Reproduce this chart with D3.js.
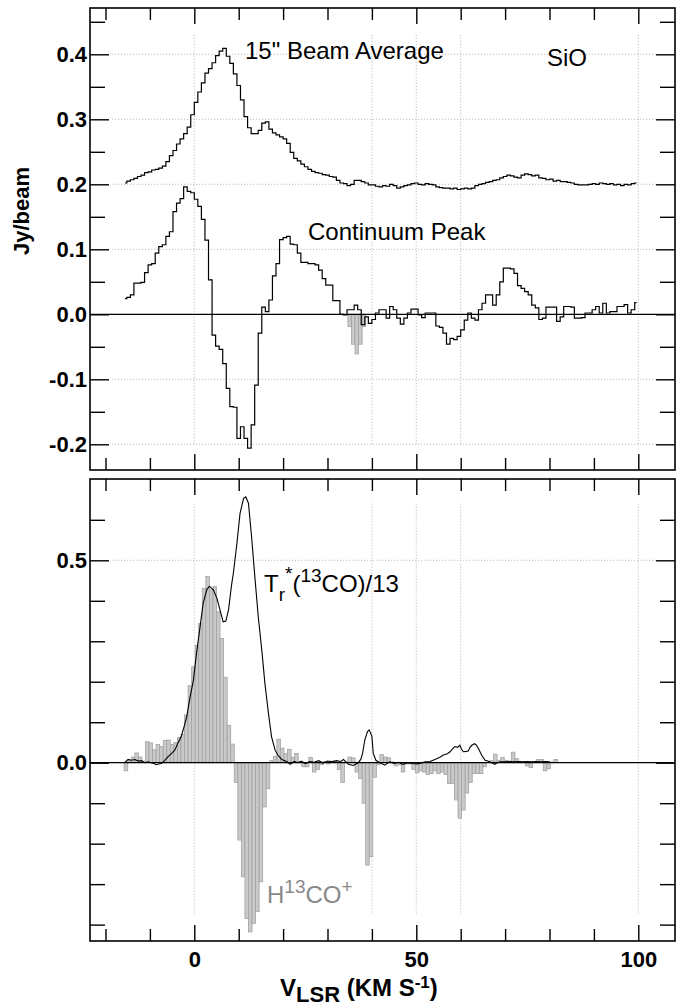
<!DOCTYPE html>
<html><head><meta charset="utf-8">
<script src="https://cdn.jsdelivr.net/npm/d3@7"></script>
<style>
body{margin:0;background:#fff;}
svg text{font-family:"Liberation Sans",Arial,Helvetica,sans-serif;}
</style></head><body>
<svg id="chart" width="679" height="1008"></svg>
<script>
// ---------------- DATA ----------------
// SiO spectra (Jy/beam), channels of 0.8 km/s starting at -15.6 km/s
const sioStart = -15.6;
const sioChannel = 0.8;
const sioBeamAverage = [
0.202,0.205,0.207,0.209,0.212,0.214,0.218,0.219,0.222,0.223,
0.225,0.228,0.235,0.244,0.252,0.262,0.270,0.278,0.288,0.307,
0.326,0.342,0.356,0.371,0.378,0.387,0.398,0.405,0.409,0.397,
0.386,0.370,0.352,0.330,0.304,0.287,0.278,0.278,0.283,0.294,
0.296,0.285,0.279,0.276,0.273,0.270,0.263,0.249,0.240,0.236,
0.231,0.227,0.223,0.220,0.218,0.217,0.215,0.214,0.212,0.211,
0.206,0.202,0.201,0.198,0.200,0.206,0.206,0.204,0.202,0.199,
0.199,0.197,0.196,0.198,0.197,0.200,0.198,0.194,0.196,0.198,
0.199,0.201,0.202,0.200,0.199,0.201,0.200,0.199,0.196,0.195,
0.194,0.194,0.193,0.194,0.192,0.193,0.194,0.193,0.194,0.198,
0.200,0.201,0.203,0.204,0.206,0.207,0.210,0.212,0.214,0.213,
0.211,0.210,0.214,0.216,0.215,0.213,0.214,0.210,0.209,0.207,
0.208,0.205,0.206,0.204,0.204,0.203,0.202,0.200,0.199,0.199,
0.199,0.200,0.201,0.200,0.202,0.201,0.200,0.201,0.199,0.200,
0.198,0.200,0.199,0.201,0.202];
const sioContinuumPeak = [
0.024,0.026,0.030,0.048,0.048,0.049,0.064,0.076,0.078,0.094,
0.104,0.107,0.120,0.127,0.158,0.171,0.178,0.196,0.189,0.187,
0.177,0.166,0.146,0.114,0.053,-0.032,-0.049,-0.054,-0.076,-0.114,
-0.142,-0.143,-0.191,-0.173,-0.191,-0.206,-0.170,-0.109,-0.029,0.011,
0.004,0.022,0.059,0.078,0.115,0.118,0.120,0.108,0.107,0.094,
0.080,0.080,0.078,0.078,0.076,0.068,0.055,0.045,0.045,0.021,
0.021,0.000,-0.001,0.007,0.007,0.014,0.007,-0.016,-0.004,-0.014,
-0.008,0.002,0.007,0.007,-0.006,0.012,0.007,-0.006,-0.015,-0.006,
0.002,0.008,0.008,-0.001,-0.005,0.002,0.002,0.002,-0.018,-0.020,
-0.029,-0.046,-0.037,-0.039,-0.034,-0.024,-0.009,0.002,-0.006,-0.009,
0.007,0.017,0.030,0.030,0.014,0.030,0.050,0.071,0.071,0.070,
0.063,0.044,0.040,0.035,0.030,0.014,0.010,-0.008,-0.006,0.011,
0.011,0.011,-0.011,-0.004,0.012,0.012,0.011,-0.006,-0.006,-0.005,
0.002,0.002,0.007,0.012,0.002,0.017,0.002,0.004,0.004,0.012,
0.012,0.015,0.002,0.007,0.018];
// grey absorption bars in the SiO panel
const topBarStart = 34.6;
const topBarValues = [-0.019,-0.046,-0.061,-0.046,-0.019];
// H13CO+ histogram (bottom panel), channels of 0.8 km/s starting at -15.8 km/s (left edge)
const hcoStart = -15.8;
const hcoChannel = 0.8;
const hcoValues = [
-0.020,0.006,0.014,0.024,0.014,0.004,0.052,0.049,0.032,0.045,
0.040,0.055,0.056,0.045,0.050,0.062,0.070,0.118,0.190,0.237,
0.290,0.344,0.431,0.460,0.427,0.435,0.373,0.307,0.211,0.092,
0.046,-0.049,-0.191,-0.282,-0.385,-0.418,-0.397,-0.368,-0.294,-0.109,
-0.064,0.005,0.015,0.058,0.036,0.023,0.033,0.013,0.023,0.002,
-0.010,-0.010,0.013,-0.023,-0.017,-0.005,0.003,-0.003,0.004,0.003,
-0.017,-0.049,0.002,0.014,0.012,-0.023,-0.039,-0.100,-0.253,-0.232,
-0.036,-0.005,0.020,0.014,0.012,0.002,-0.008,-0.005,-0.023,-0.003,
-0.003,-0.017,-0.025,-0.020,-0.023,-0.029,-0.027,-0.020,-0.027,-0.023,
-0.029,-0.051,-0.051,-0.092,-0.137,-0.117,-0.075,-0.049,-0.027,-0.027,
-0.027,-0.010,0.000,0.005,0.021,0.006,0.013,0.006,0.004,0.026,
0.010,0.002,0.002,-0.008,-0.012,0.002,0.008,0.008,-0.020,-0.015,
0.002,0.008];
// Tr*(13CO)/13 line profile
const coVelocity = [
-15.7,-14.9,-14.2,-13.4,-12.6,-11.9,-11.2,-10.4,-9.7,-9.1,-8.6,-8.0,-7.4,-6.7,-5.9,-5.1,-4.4,-3.7,-2.9,-2.2,
-1.7,-1.0,-0.2,0.5,1.3,2.0,2.8,3.4,4.3,5.1,5.8,6.5,7.1,7.7,8.4,8.8,9.6,10.3,11.1,11.6,
12.2,12.9,13.7,14.4,15.2,15.9,16.7,17.4,18.2,18.8,19.7,20.8,21.6,22.5,23.3,24.1,25.0,26.0,27.0,28.0,
29.0,30.0,31.0,32.0,33.0,33.6,34.7,35.8,36.9,37.5,37.9,38.4,39.0,39.4,40.0,40.3,40.9,41.8,42.9,44.0,
45.0,46.0,47.0,48.0,49.0,50.1,51.0,52.0,53.1,54.6,55.4,56.1,57.0,57.6,58.2,58.7,59.3,59.8,60.2,60.6,
61.2,61.7,62.1,62.5,63.1,63.5,64.0,64.7,65.5,66.1,66.6,67.7,68.2,68.9,70.0,71.0,72.0,73.0,74.0,75.0,
76.0,77.0,78.0,79.0,80.1];
const coValue = [
0.000,0.008,0.006,0.008,0.004,0.005,0.000,0.002,0.000,-0.002,-0.005,-0.003,-0.002,0.005,0.015,0.023,0.031,0.048,0.066,0.093,
0.114,0.159,0.204,0.270,0.336,0.394,0.427,0.436,0.427,0.406,0.377,0.348,0.350,0.377,0.440,0.468,0.542,0.616,0.653,0.657,
0.641,0.558,0.451,0.361,0.278,0.196,0.122,0.064,0.031,0.019,0.008,0.003,-0.004,0.003,0.000,0.004,-0.002,0.003,0.001,0.005,
-0.001,0.004,0.002,0.005,0.003,0.008,-0.004,-0.007,0.000,0.008,0.023,0.056,0.077,0.081,0.065,0.023,0.006,0.000,-0.006,0.002,
-0.002,0.001,-0.004,0.000,-0.002,-0.003,-0.001,0.002,0.003,0.010,0.014,0.019,0.022,0.027,0.035,0.040,0.038,0.043,0.033,0.027,
0.028,0.029,0.038,0.043,0.047,0.044,0.035,0.019,0.006,0.004,0.002,-0.004,0.000,0.002,0.002,0.003,0.002,0.003,0.002,0.003,
0.002,0.003,0.002,0.003,0.002];
// ticks and grid
const xMajorTicks = [0, 50, 100];
const xMinorTicks = [-20, -10, 10, 20, 30, 40, 60, 70, 80, 90];
const gridX = [0, 40, 50, 60, 100];
const topYMajor = [-0.2, -0.1, 0, 0.1, 0.2, 0.3, 0.4];
const topYMinor = [-0.15, -0.05, 0.05, 0.15, 0.25, 0.35, 0.45];
const topGridY = [-0.2, -0.1, 0.1, 0.2, 0.3, 0.4];
const botYMajor = [0, 0.5];
const botYMinor = [-0.4, -0.3, -0.2, -0.1, 0.1, 0.2, 0.3, 0.4, 0.6];
const botGridY = [0.5];

// ---------------- LAYOUT ----------------
const FONT = '"Liberation Sans",Arial,Helvetica,sans-serif';
const svg = d3.select("#chart");
const frameL = 90, frameR = 675;
const topP = {t: 8, b: 470};
const botP = {t: 479, b: 941};
const x = d3.scaleLinear().domain([0, 100]).range([194.3, 638.3]);
const yTop = d3.scaleLinear().domain([0, 0.4]).range([314.3, 54.3]);
const yBot = d3.scaleLinear().domain([0, 0.5]).range([762.7, 560.3]);
const gridXRange = [-18.5, 104.3];

function grid(y, ys, yr) {
  const g = svg.append("g").attr("stroke", "#b4b4b4").attr("stroke-width", 1).attr("stroke-dasharray", "1,2");
  g.selectAll(".gv").data(gridX).join("line")
    .attr("x1", d => x(d)).attr("x2", d => x(d))
    .attr("y1", y(yr[1])).attr("y2", y(yr[0]));
  g.selectAll(".gh").data(ys).join("line")
    .attr("x1", x(gridXRange[0])).attr("x2", x(gridXRange[1]))
    .attr("y1", d => y(d)).attr("y2", d => y(d));
}

function axis(fn, scale, values, size, transform, fmt, pad) {
  const a = fn(scale).tickValues(values).tickSize(size).tickPadding(pad || 3)
    .tickFormat(fmt || (() => ""));
  const g = svg.append("g").attr("transform", transform).call(a);
  g.select(".domain").remove();
  g.selectAll("line").attr("stroke", "#000").attr("stroke-width", 1.4);
  g.selectAll("text").attr("font-size", 22).attr("font-weight", "bold")
    .attr("font-family", FONT).attr("fill", "#000");
  return g;
}

function frameAndTicks(y, P, majY, minY, labelX) {
  const f1 = d => d.toFixed(1);
  axis(d3.axisLeft, y, majY, -19, `translate(${frameL},0)`, f1, 3);
  axis(d3.axisLeft, y, minY.filter(v => y(v) > P.t && y(v) < P.b), -15, `translate(${frameL},0)`);
  axis(d3.axisRight, y, majY, -19, `translate(${frameR},0)`);
  axis(d3.axisRight, y, minY.filter(v => y(v) > P.t && y(v) < P.b), -15, `translate(${frameR},0)`);
  axis(d3.axisTop, x, xMajorTicks, -16, `translate(0,${P.t})`);
  axis(d3.axisTop, x, xMinorTicks, -12, `translate(0,${P.t})`);
  axis(d3.axisBottom, x, xMajorTicks, -16, `translate(0,${P.b})`, labelX ? (d => String(d)) : null, 10);
  axis(d3.axisBottom, x, xMinorTicks, -12, `translate(0,${P.b})`);
  svg.append("rect").attr("x", frameL).attr("y", P.t)
    .attr("width", frameR - frameL).attr("height", P.b - P.t)
    .attr("fill", "none").attr("stroke", "#000").attr("stroke-width", 1.6);
}

function bars(y, start, w, values) {
  svg.append("g").selectAll("rect").data(values).join("rect")
    .attr("x", (d, i) => x(start + i * w))
    .attr("width", (d, i) => x(start + (i + 1) * w) - x(start + i * w))
    .attr("y", d => Math.min(y(d), y(0)))
    .attr("height", d => Math.abs(y(d) - y(0)))
    .attr("fill", "#c9c9c9").attr("stroke", "#a2a2a2").attr("stroke-width", 0.8);
}

function zeroLine(y) {
  svg.append("line").attr("x1", frameL).attr("x2", frameR)
    .attr("y1", y(0)).attr("y2", y(0)).attr("stroke", "#000").attr("stroke-width", 1.2);
}

// ---------------- TOP PANEL ----------------
grid(yTop, topGridY, [-0.2, 0.43]);
bars(yTop, topBarStart, sioChannel, topBarValues);
zeroLine(yTop);
const stepLine = d3.line().curve(d3.curveStep)
  .x((d, i) => x(sioStart + i * sioChannel)).y(d => yTop(d));
svg.append("path").datum(sioBeamAverage).attr("d", stepLine)
  .attr("fill", "none").attr("stroke", "#000").attr("stroke-width", 1.2);
svg.append("path").datum(sioContinuumPeak).attr("d", stepLine)
  .attr("fill", "none").attr("stroke", "#000").attr("stroke-width", 1.2);
frameAndTicks(yTop, topP, topYMajor, topYMinor, false);

svg.append("text").attr("x", 245).attr("y", 58.5).attr("font-size", 24).text('15" Beam Average');
svg.append("text").attr("x", 547).attr("y", 65.5).attr("font-size", 24).text("SiO");
svg.append("text").attr("x", 308).attr("y", 240).attr("font-size", 24).text("Continuum Peak");

// ---------------- BOTTOM PANEL ----------------
grid(yBot, botGridY, [-0.376, 0.64]);
bars(yBot, hcoStart, hcoChannel, hcoValues);
zeroLine(yBot);
const coLine = d3.line().x((d, i) => x(coVelocity[i])).y(d => yBot(d));
svg.append("path").datum(coValue).attr("d", coLine)
  .attr("fill", "none").attr("stroke", "#000").attr("stroke-width", 1.1);
frameAndTicks(yBot, botP, botYMajor, botYMinor, true);

const tr = svg.append("text").attr("x", 264).attr("y", 592).attr("font-size", 24);
tr.append("tspan").text("T");
tr.append("tspan").attr("font-size", 19).attr("dy", 9).text("r");
tr.append("tspan").attr("font-size", 19).attr("dy", -21).text("*");
tr.append("tspan").attr("dy", 12).text("(");
tr.append("tspan").attr("font-size", 19).attr("dy", -10).text("13");
tr.append("tspan").attr("dy", 10).text("CO)/13");

const hc = svg.append("text").attr("x", 267).attr("y", 903).attr("font-size", 24).attr("fill", "#888");
hc.append("tspan").text("H");
hc.append("tspan").attr("font-size", 19).attr("dy", -10).text("13");
hc.append("tspan").attr("dy", 10).text("CO");
hc.append("tspan").attr("font-size", 19).attr("dy", -10).text("+");

// ---------------- AXIS TITLES ----------------
svg.append("text").attr("transform", "translate(29,211) rotate(-90)")
  .attr("text-anchor", "middle").attr("font-size", 22).attr("font-weight", "bold").text("Jy/beam");

const xt = svg.append("text").attr("x", 280).attr("y", 996).attr("font-size", 24).attr("font-weight", "bold");
xt.append("tspan").text("V");
xt.append("tspan").attr("font-size", 22).attr("dy", 6).text("LSR");
xt.append("tspan").attr("dy", -6).text(" (KM S");
xt.append("tspan").attr("font-size", 17).attr("dy", -8.5).text("-1");
xt.append("tspan").attr("dy", 8.5).text(")");
</script>
</body></html>
